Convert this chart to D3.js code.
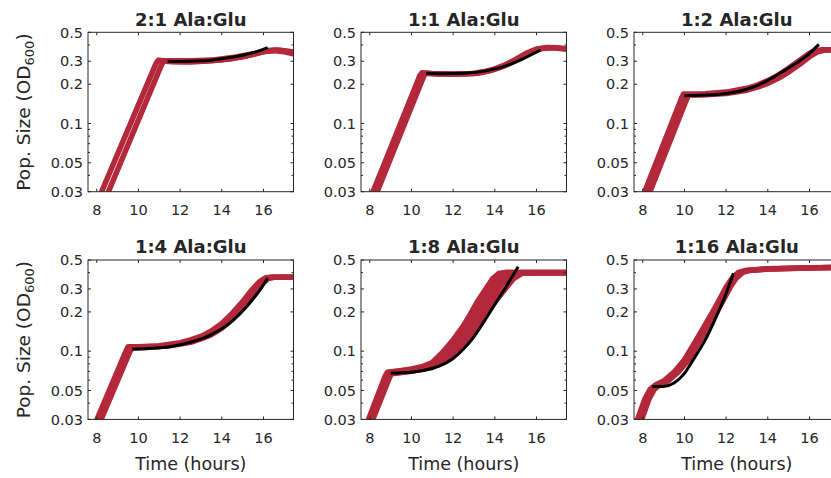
<!DOCTYPE html>
<html>
<head>
<meta charset="utf-8">
<script src="https://cdn.jsdelivr.net/npm/d3@7"></script>
<style>
body { margin: 0; background: #fff; }
text { font-family: "DejaVu Sans", sans-serif; fill: #262626; }
</style>
</head>
<body>
<div id="container"></div>
<script>
// Chart size
const width = 831;
const height = 478;

// Panel titles, in reading order
const titles = ["2:1 Ala:Glu", "1:1 Ala:Glu", "1:2 Ala:Glu", "1:4 Ala:Glu", "1:8 Ala:Glu", "1:16 Ala:Glu"];

// Axis ticks
const xTicks = [8, 10, 12, 14, 16];
const yTicks = [0.03, 0.05, 0.1, 0.2, 0.3, 0.5];
const yTickLabels = ["0.03", "0.05", "0.1", "0.2", "0.3", "0.5"];
const yMinor = [0.04, 0.06, 0.07, 0.08, 0.09, 0.4];
const xDomain = [7.58, 17.44];
const yDomain = [0.03, 0.5];

// Replicate growth curves [time (h), OD600]
const red21 = [
	[[8.0,0.0245],[10.85,0.29],[10.95,0.305],[11.3,0.301],[12,0.298],[13,0.300],[14,0.308],[15,0.325],[15.7,0.345],[16.2,0.362],[16.6,0.366],[17,0.36],[17.5,0.347]],
	[[8.33,0.0245],[11.12,0.285],[11.22,0.301],[11.6,0.297],[12.5,0.296],[13.5,0.302],[14.5,0.314],[15.3,0.333],[16,0.355],[16.5,0.362],[17,0.355],[17.5,0.34]],
	[[11.1,0.303],[11.5,0.303],[12.5,0.302],[13.5,0.306],[14.5,0.32],[15.5,0.342],[16.1,0.36],[16.8,0.365],[17.5,0.352]]
];
const red11 = [
	[[8.0,0.026],[10.4,0.232],[10.5,0.245],[11,0.242],[12,0.240],[13,0.242],[13.5,0.25],[14,0.262],[14.5,0.282],[15,0.31],[15.5,0.345],[16,0.372],[16.5,0.383],[17,0.381],[17.5,0.373]],
	[[8.2,0.026],[10.6,0.232],[10.7,0.243],[11.2,0.239],[12.2,0.238],[13.2,0.243],[13.8,0.254],[14.3,0.27],[14.8,0.292],[15.3,0.325],[15.8,0.358],[16.3,0.376],[16.8,0.38],[17.5,0.37]]
];
const red12 = [
	[[7.9,0.025],[9.85,0.155],[9.95,0.168],[10.5,0.168],[11,0.169],[12,0.174],[13,0.186],[13.5,0.197],[14,0.213],[14.5,0.235],[15,0.265],[15.5,0.302],[16,0.345],[16.3,0.362],[16.6,0.368],[17.5,0.368]],
	[[8.15,0.025],[10.1,0.153],[10.2,0.165],[11,0.166],[12,0.17],[13,0.18],[13.5,0.19],[14,0.203],[14.5,0.222],[15,0.248],[15.5,0.282],[16,0.325],[16.4,0.355],[16.8,0.367],[17.5,0.368]],
	[[8.05,0.025],[10.0,0.155],[10.1,0.166],[11,0.167],[12,0.172],[13,0.183],[13.5,0.193],[14,0.208],[14.5,0.228],[15,0.256],[15.5,0.292],[16,0.335],[16.5,0.362],[17,0.368],[17.5,0.368]]
];
const red14 = [
	[[7.8,0.025],[9.4,0.1],[9.5,0.108],[10,0.108],[11,0.11],[12,0.116],[12.5,0.122],[13,0.13],[13.5,0.143],[14,0.163],[14.5,0.195],[15,0.24],[15.4,0.29],[15.8,0.34],[16.1,0.365],[16.4,0.37],[17.5,0.37]],
	[[8.0,0.025],[9.6,0.1],[9.7,0.106],[10.5,0.107],[11.5,0.11],[12.5,0.117],[13,0.124],[13.5,0.134],[14,0.15],[14.5,0.176],[15,0.215],[15.5,0.27],[15.9,0.325],[16.2,0.358],[16.5,0.368],[17.5,0.369]]
];
const red18 = [
	[[7.75,0.025],[8.75,0.065],[8.85,0.069],[9.5,0.071],[10,0.073],[10.5,0.076],[11,0.082],[11.5,0.098],[12,0.122],[12.5,0.157],[12.85,0.195],[13.2,0.245],[13.6,0.305],[13.9,0.36],[14.2,0.395],[14.5,0.402],[17.5,0.402]],
	[[7.8,0.025],[8.8,0.065],[8.9,0.069],[9.5,0.070],[10,0.072],[10.5,0.075],[11,0.08],[11.5,0.093],[12,0.114],[12.5,0.146],[12.9,0.185],[13.3,0.235],[13.7,0.29],[14.1,0.35],[14.4,0.39],[14.7,0.40],[17.5,0.40]],
	[[7.85,0.025],[8.85,0.064],[8.95,0.068],[10,0.071],[11,0.079],[11.5,0.09],[12,0.107],[12.5,0.135],[13,0.175],[13.4,0.22],[13.8,0.275],[14.2,0.34],[14.6,0.39],[14.9,0.40],[17.5,0.40]],
	[[7.9,0.025],[8.9,0.0635],[9.0,0.0675],[10,0.0705],[11,0.077],[11.5,0.086],[12,0.099],[12.5,0.123],[13,0.16],[13.4,0.196],[13.8,0.245],[14.2,0.305],[14.6,0.365],[15,0.395],[15.3,0.40],[17.5,0.40]],
	[[7.95,0.025],[8.95,0.063],[9.05,0.067],[10,0.07],[11,0.075],[11.5,0.082],[12,0.092],[12.5,0.112],[13,0.145],[13.4,0.172],[13.7,0.205],[14.1,0.25],[14.5,0.3],[14.9,0.36],[15.3,0.395],[15.7,0.40],[17.5,0.40]]
];
const red116 = [
	[[7.5,0.025],[7.75,0.03],[8.1,0.043],[8.35,0.051],[8.6,0.055],[9,0.059],[9.5,0.069],[10,0.086],[10.5,0.117],[11,0.16],[11.5,0.22],[12,0.31],[12.3,0.365],[12.6,0.402],[12.9,0.415],[14,0.428],[15,0.432],[16,0.436],[17.5,0.44]],
	[[7.6,0.025],[7.85,0.03],[8.2,0.043],[8.45,0.051],[8.7,0.055],[9.1,0.059],[9.6,0.069],[10.1,0.086],[10.6,0.117],[11.1,0.16],[11.6,0.22],[12.1,0.31],[12.4,0.365],[12.7,0.402],[13,0.415],[14,0.427],[15,0.431],[16,0.435],[17.5,0.44]],
	[[7.7,0.025],[7.95,0.03],[8.3,0.043],[8.55,0.051],[8.8,0.055],[9.2,0.059],[9.7,0.069],[10.2,0.086],[10.7,0.117],[11.2,0.16],[11.7,0.22],[12.2,0.31],[12.5,0.365],[12.8,0.402],[13.1,0.415],[14,0.426],[15,0.431],[16,0.435],[17.5,0.44]]
];

// Model fits (black)
const fit21 = [[11.4,0.300],[12,0.299],[13,0.302],[14,0.314],[15,0.334],[15.6,0.352],[16.2,0.381]];
const fit11 = [[10.7,0.243],[11.5,0.241],[12.5,0.243],[13.5,0.252],[14.5,0.275],[15.3,0.31],[15.8,0.34],[16.2,0.366]];
const fit12 = [[10.0,0.163],[11,0.165],[12,0.17],[13,0.183],[14,0.214],[14.8,0.255],[15.5,0.3],[16,0.345],[16.45,0.404]];
const fit14 = [[9.7,0.104],[10.5,0.105],[11.5,0.108],[12.5,0.117],[13.5,0.134],[14.5,0.17],[15.2,0.22],[15.8,0.29],[16.2,0.362]];
const fit18 = [[9.0,0.068],[10,0.069],[11,0.074],[11.5,0.079],[12,0.088],[12.5,0.104],[13,0.129],[13.5,0.17],[14,0.228],[14.5,0.305],[15.12,0.444]];
const fit116 = [[8.45,0.0535],[9,0.0537],[9.5,0.057],[10,0.0676],[10.5,0.09],[11,0.122],[11.5,0.18],[12,0.277],[12.35,0.395]];

const reds = [red21, red11, red12, red14, red18, red116];
const fits = [fit21, fit11, fit12, fit14, fit18, fit116];

// Layout
const panelLeft = [88, 361, 634];
const panelTop = [32.3, 260];
const panelW = 205.5;
const panelH = 159.4;
const redColor = "#b3283a";
const axisColor = "#262626";

const svg = d3.select("#container").append("svg")
	.attr("width", width)
	.attr("height", height)
	.style("display", "block");

titles.forEach((title, i) => {
	const col = i % 3, row = Math.floor(i / 3);
	const left = panelLeft[col], top = panelTop[row];
	const right = left + panelW, bottom = top + panelH;

	const x = d3.scaleLinear().domain(xDomain).range([left, right]);
	const y = d3.scaleLog().domain(yDomain).range([bottom, top]);

	const g = svg.append("g");

	g.append("clipPath")
		.attr("id", `clip${i}`)
		.append("rect")
			.attr("x", left).attr("y", top)
			.attr("width", panelW).attr("height", panelH);

	// data lines: straight segments, sharp knees
	const redLine = d3.line()
		.x(d => x(d[0]))
		.y(d => y(d[1]));

	const fitLine = d3.line()
		.x(d => x(d[0]))
		.y(d => y(d[1]))
		.curve(d3.curveMonotoneX);

	// Replicates
	g.append("g")
		.attr("clip-path", `url(#clip${i})`)
		.selectAll("path")
		.data(reds[i])
		.join("path")
			.attr("fill", "none")
			.attr("stroke", redColor)
			.attr("stroke-width", 5.5)
			.attr("stroke-linejoin", "round")
			.attr("d", redLine);

	// Fit
	g.append("path")
		.attr("fill", "none")
		.attr("stroke", "#000")
		.attr("stroke-width", 3)
		.attr("d", fitLine(fits[i]));

	// Box
	g.append("rect")
		.attr("x", left).attr("y", top)
		.attr("width", panelW).attr("height", panelH)
		.attr("fill", "none")
		.attr("stroke", axisColor)
		.attr("stroke-width", 1);

	// Ticks, inward, on all four sides
	const tk = g.append("g").attr("stroke", axisColor).attr("stroke-width", 1);
	xTicks.forEach(t => {
		tk.append("line").attr("x1", x(t)).attr("x2", x(t)).attr("y1", bottom).attr("y2", bottom - 3);
		tk.append("line").attr("x1", x(t)).attr("x2", x(t)).attr("y1", top).attr("y2", top + 3);
	});
	yTicks.forEach(v => {
		tk.append("line").attr("x1", left).attr("x2", left + 3).attr("y1", y(v)).attr("y2", y(v));
		tk.append("line").attr("x1", right).attr("x2", right - 3).attr("y1", y(v)).attr("y2", y(v));
	});
	yMinor.forEach(v => {
		tk.append("line").attr("x1", left).attr("x2", left + 2).attr("y1", y(v)).attr("y2", y(v));
		tk.append("line").attr("x1", right).attr("x2", right - 2).attr("y1", y(v)).attr("y2", y(v));
	});

	// Tick labels
	g.selectAll(".xl")
		.data(xTicks)
		.join("text")
			.attr("class", "xl")
			.attr("x", d => x(d))
			.attr("y", bottom + 23.5)
			.attr("text-anchor", "middle")
			.style("font-size", "14.5px")
			.text(d => d);

	g.selectAll(".yl")
		.data(yTicks)
		.join("text")
			.attr("class", "yl")
			.attr("x", left - 5)
			.attr("y", d => y(d) + 5.2)
			.attr("text-anchor", "end")
			.style("font-size", "14.5px")
			.text((d, j) => yTickLabels[j]);

	// Title
	g.append("text")
		.attr("x", (left + right) / 2)
		.attr("y", top - 6.6)
		.attr("text-anchor", "middle")
		.style("font-size", "18px")
		.style("font-weight", "bold")
		.text(title);

	// Axis labels
	if (row === 1) {
		g.append("text")
			.attr("x", (left + right) / 2)
			.attr("y", 470)
			.attr("text-anchor", "middle")
			.style("font-size", "17.5px")
			.text("Time (hours)");
	}
	if (col === 0) {
		const yl = g.append("text")
			.attr("transform", `translate(29.5,${(top + bottom) / 2}) rotate(-90)`)
			.attr("text-anchor", "middle")
			.style("font-size", "18.5px");
		yl.append("tspan").text("Pop. Size (OD");
		yl.append("tspan").attr("dy", 4).style("font-size", "13px").text("600");
		yl.append("tspan").attr("dy", -4).text(")");
	}
});
</script>
</body>
</html>
